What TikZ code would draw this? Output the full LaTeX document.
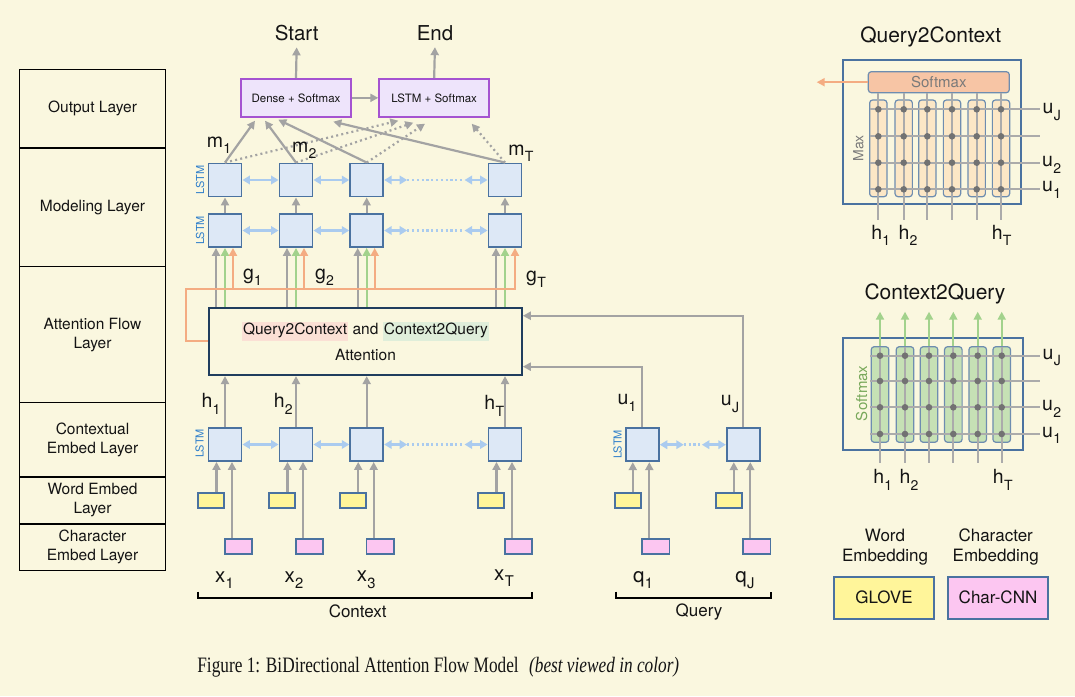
\documentclass[tikz,border=0pt]{standalone}
\usepackage{fontspec}
\usepackage{graphicx}
\setmainfont{TeX Gyre Heros}
\newfontfamily\capfont{Liberation Serif}
\usetikzlibrary{arrows.meta,calc}
\definecolor{bgc}{HTML}{FAF7DF}
\definecolor{lstmf}{HTML}{DDE8F6}
\definecolor{lstmb}{HTML}{4A72A0}
\definecolor{arrg}{HTML}{A3A3A3}
\definecolor{arrb}{HTML}{AACBEF}
\definecolor{orng}{HTML}{F4AC82}
\definecolor{grn}{HTML}{A2D28C}
\definecolor{purpb}{HTML}{A553D1}
\definecolor{purpf}{HTML}{EEE4FB}
\definecolor{yelf}{HTML}{FFF59A}
\definecolor{pnkf}{HTML}{FCC6F1}
\definecolor{attb}{HTML}{1F3D5E}
\definecolor{hlpink}{HTML}{FBE0D5}
\definecolor{hlgreen}{HTML}{DFEEDA}
\definecolor{qcf}{HTML}{FCE7C6}
\definecolor{smf}{HTML}{F7C5A5}
\definecolor{cqf}{HTML}{C6E1B5}
\definecolor{colb}{HTML}{6E8DB0}
\definecolor{dotc}{HTML}{727272}
\definecolor{gridc}{HTML}{ABABAB}
\definecolor{txtc}{HTML}{141414}
\definecolor{lstmtxt}{HTML}{2F7FCB}
\definecolor{smtxt}{HTML}{7A7A7A}
\definecolor{cqtxt}{HTML}{78A85A}
\newcommand{\vsub}[2]{#1\kern0.3pt\raisebox{-0.32em}{\scalebox{0.72}{#2}}}
\newcommand{\hlstrut}{\rule[-5.5pt]{0pt}{16.5pt}}
\setlength{\fboxsep}{1.2pt}
\begin{document}
\begin{tikzpicture}[x=1pt,y=-1pt,
  every node/.style={text=txtc},
  layer/.style={draw=black, line width=1.5pt, minimum width=146pt, inner sep=0, align=center, font=\fontsize{15.5}{19}\selectfont},
  lstm/.style={draw=lstmb, fill=lstmf, line width=1.9pt, minimum width=33pt, minimum height=33pt, inner sep=0},
  yel/.style={draw=lstmb, fill=yelf, line width=1.7pt, minimum width=26pt, minimum height=15pt, inner sep=0},
  pnk/.style={draw=lstmb, fill=pnkf, line width=1.7pt, minimum width=27.5pt, minimum height=15pt, inner sep=0},
  tip/.style={-{Triangle[length=8pt,width=8pt]}},
  garrow/.style={draw=arrg, line width=2.2pt, tip},
  gdots/.style={garrow, dash pattern=on 2pt off 3.2pt},
  barrow/.style={draw=arrb, line width=2.6pt, {Triangle[length=7.5pt,width=8.5pt]}-{Triangle[length=7.5pt,width=8.5pt]}},
  bdots/.style={draw=arrb, line width=2.6pt, dash pattern=on 2.2pt off 2.6pt},
  oarrow/.style={draw=orng, line width=2.2pt, tip},
  grarrow/.style={draw=grn, line width=2.2pt, tip},
  outbox/.style={draw=purpb, fill=purpf, line width=2pt, minimum width=110pt, minimum height=37.7pt, inner sep=0, font=\fontsize{11.5}{14}\selectfont},
  lstmlbl/.style={rotate=90, text=lstmtxt, font=\fontsize{11}{12}\selectfont, inner sep=0},
  vlbl/.style={font=\fontsize{19.5}{22}\selectfont, inner sep=0},
  xlbl/.style={font=\fontsize{20.5}{23}\selectfont, inner sep=0},
  bigt/.style={font=\fontsize{20.5}{24}\selectfont},
  ttl/.style={font=\fontsize{21}{25}\selectfont, inner sep=0},
  frm/.style={draw=lstmb, line width=2pt, inner sep=0},
  qccol/.style={draw=colb, fill=qcf, line width=1.2pt, rounded corners=3pt, minimum width=17.3pt, minimum height=96.7pt, inner sep=0},
  cqcol/.style={draw=colb, fill=cqf, line width=1.2pt, rounded corners=3pt, minimum width=17.6pt, minimum height=95.6pt, inner sep=0},
  gline/.style={draw=gridc, line width=2.1pt},
  bracel/.style={draw=black, line width=1.8pt},
  legbox/.style={draw=lstmb, line width=1.8pt, minimum width=100pt, minimum height=42pt, inner sep=0, font=\fontsize{17}{20}\selectfont},
  legtxt/.style={align=center, font=\fontsize{17}{20}\selectfont, inner sep=0}
]
\fill[bgc] (0,0) rectangle (1075,696);
\useasboundingbox (0,0) rectangle (1075,696);

% ---------- left layer column ----------
\node[layer, minimum height=78.7pt]  (lout) at (92.5,108.65) {Output Layer};
\node[layer, minimum height=118.5pt] (lmod) at (92.5,207.25) {Modeling Layer};
\node[layer, minimum height=136.2pt] (latt) at (92.5,334.6) {Attention Flow\\Layer};
\node[layer, minimum height=74.3pt]  (lctx) at (92.5,439.85) {Contextual\\Embed Layer};
\node[layer, minimum height=47pt]    (lwrd) at (92.5,500.5) {Word Embed\\Layer};
\node[layer, minimum height=46.7pt]  (lchr) at (92.5,547.35) {Character\\Embed Layer};

% ---------- context column boxes ----------
\foreach \n/\x in {1/225,2/296,3/366.7,4/505} {
  \node[lstm] (m1\n) at (\x,180) {};
  \node[lstm] (m2\n) at (\x,230.5) {};
  \node[lstm] (c\n) at (\x,444.5) {};
  \node[yel] (y\n) at (\x-14,500.8) {};
  \node[pnk] (p\n) at (\x+13.5,546.7) {};
}
\foreach \n/\x in {1/642.3,2/743.3} {
  \node[lstm] (q\n) at (\x,444.7) {};
  \node[yel] (qy\n) at (\x-14,500.8) {};
  \node[pnk] (qp\n) at (\x+13.5,546.7) {};
}
\node[lstmlbl] (lb1) at (200,180) {LSTM};
\node[lstmlbl] (lb2) at (200,230.5) {LSTM};
\node[lstmlbl] (lb3) at (199.5,443.5) {LSTM};
\node[lstmlbl] (lb4) at (617.7,444.5) {LSTM};

% ---------- output layer ----------
\node[outbox] (dense) at (296,97.85) {Dense + Softmax};
\node[outbox, minimum width=109.7pt] (lsm) at (434.15,97.85) {LSTM + Softmax};
\node[bigt] (start) at (296.7,33) {Start};
\node[bigt] (end) at (435,33) {End};
\draw[garrow, shorten >=3pt] (dense.north) -- (start.south);
\draw[garrow, shorten >=3pt] (lsm.north) -- (end.south);
\draw[garrow] (dense.east) -- (lsm.west);

\draw[garrow] (m11.north) -- ($(dense.south)+(-41,3)$);
\draw[garrow] (m12.north) -- ($(dense.south)+(-31,3)$);
\draw[garrow] (m13.north) -- ($(dense.south)+(-17.7,2)$);
\draw[garrow] (m14.north) -- ($(dense.south)+(37.3,4)$);
\draw[gdots] (m11.north) -- ($(lsm.south)+(-35.85,3)$);
\draw[gdots] (m12.north) -- ($(lsm.south)+(-20.85,5)$);
\draw[gdots] (m13.north) -- ($(lsm.south)+(-9.15,6)$);
\draw[gdots] (m14.north) -- ($(lsm.south)+(37.55,6)$);

% ---------- horizontal bi-LSTM links ----------
\foreach \r in {m1,m2,c} {
  \draw[barrow] (\r1.east) -- (\r2.west);
  \draw[barrow] (\r2.east) -- (\r3.west);
  \draw[barrow] (\r3.east) -- ++(23,0);
  \draw[bdots] ($(\r3.east)+(23,0)$) -- ($(\r4.west)+(-23,0)$);
  \draw[barrow] ($(\r4.west)+(-23,0)$) -- (\r4.west);
}
\draw[barrow] (q1.east) -- ++(24,0);
\draw[bdots] ($(q1.east)+(24,0)$) -- ($(q2.west)+(-24,0)$);
\draw[barrow] ($(q2.west)+(-24,0)$) -- (q2.west);

% ---------- attention flow ----------
\node[draw=attb, line width=2.2pt, minimum width=312.4pt, minimum height=67.3pt, inner sep=0] (att) at (365.5,341.35) {};
\node[font=\fontsize{15.5}{18}\selectfont, inner sep=0] (attt1) at (365.5,331.7)
  {\colorbox{hlpink}{\hlstrut Query2Context} and \colorbox{hlgreen}{\hlstrut Context2Query}};
\node[font=\fontsize{15.5}{18}\selectfont, inner sep=0] (attt2) at (365.5,355) {Attention};

\coordinate (obar) at (0,289.3);
\foreach \n/\o in {1/8,2/8,3/8,4/10} {
  \coordinate (gg\n) at ($(m2\n.south)+(-9,0)$);
  \coordinate (gr\n) at ($(m2\n.south)+(0,0)$);
  \coordinate (go\n) at ($(m2\n.south)+(\o,0)$);
  \draw[garrow] (gg\n |- att.north) -- (gg\n);
  \draw[grarrow] (gr\n |- att.north) -- (gr\n);
  \draw[garrow] (m2\n.north) -- (m1\n.south);
  \draw[garrow] (c\n.north) -- (c\n.north |- att.south);
  \draw[garrow] ($(y\n.north)+(5.5,0)$) -- ($(c\n.south)+(-8.5,0)$);
  \draw[garrow] ($(p\n.north)+(-6.5,0)$) -- ($(c\n.south)+(7,0)$);
}
\draw[oarrow] (att.west) -- ++(-22.6,0) |- (go4 |- obar) -- (go4);
\foreach \n in {1,2,3} { \draw[oarrow] (go\n |- obar) -- (go\n); }

\foreach \n in {1,2} {
  \draw[garrow] ($(qy\n.north)+(4.5,0)$) -- ($(q\n.south)+(-9.5,0)$);
  \draw[garrow] ($(qp\n.north)+(-6.5,0)$) -- ($(q\n.south)+(7,0)$);
}
\draw[garrow] (q1.north) |- ($(att.east)+(0,25.3)$);
\draw[garrow] (q2.north) |- ($(att.east)+(0,-25.6)$);

% ---------- labels ----------
\node[vlbl] (lm1) at (219,145.3) {\vsub{m}{1}};
\node[vlbl] (lm2) at (304.3,150) {\vsub{m}{2}};
\node[vlbl] (lmT) at (521,153) {\vsub{m}{T}};
\node[vlbl] (lg1) at (252.5,277) {\vsub{g}{1}};
\node[vlbl] (lg2) at (324.5,277) {\vsub{g}{2}};
\node[vlbl] (lgT) at (536,279) {\vsub{g}{T}};
\node[vlbl] (lh1) at (211,404) {\vsub{h}{1}};
\node[vlbl] (lh2) at (283.3,404) {\vsub{h}{2}};
\node[vlbl] (lhT) at (494.3,406) {\vsub{h}{T}};
\node[vlbl] (lu1) at (627,403) {\vsub{u}{1}};
\node[vlbl] (luJ) at (730,404) {\vsub{u}{J}};
\node[xlbl] (lx1) at (224.5,580) {\vsub{x}{1}};
\node[xlbl] (lx2) at (294,580) {\vsub{x}{2}};
\node[xlbl] (lx3) at (366.3,580) {\vsub{x}{3}};
\node[xlbl] (lxT) at (504,578) {\vsub{x}{T}};
\node[xlbl] (lq1) at (643,580) {\vsub{q}{1}};
\node[xlbl] (lqJ) at (745,580) {\vsub{q}{J}};

\draw[bracel] (198.3,591.7) -- (198.3,598.3) -- (532.3,598.3) -- (532.3,591.7);
\draw[bracel] (615.7,591.7) -- (615.7,598.3) -- (771,598.3) -- (771,591.7);
\node[legtxt] (lctxt) at (357.7,611.7) {Context};
\node[legtxt] (lqry) at (699,612.3) {Query};

% ---------- Query2Context panel ----------
\node[ttl] (q2ct) at (930.7,37.3) {Query2Context};
\node[frm, minimum width=178.3pt, minimum height=144pt] (qcbox) at (931.85,132) {};
\node[draw=colb, fill=smf, line width=1.2pt, rounded corners=3pt, minimum width=141pt, minimum height=21pt, inner sep=0, text=smtxt, font=\fontsize{15}{17}\selectfont] (qcsm) at (938.8,82.2) {Softmax};
\draw[oarrow] (qcsm.west) -- (816.7,82.2);
\foreach \k/\x in {1/878.3,2/903.7,3/927.3,4/952,5/976.7,6/1001} {
  \node[qccol] (qcc\k) at (\x,148.35) {};
}
\foreach \x in {878.3,903.7,927.3,952,976.7,1001} { \draw[gline] (\x,92.7) -- (\x,220); }
\foreach \y in {109.3,136.3,162.7,189.3} { \draw[gline] (870,\y) -- (1040,\y); }
\foreach \x in {878.3,903.7,927.3,952,976.7,1001} {
  \foreach \y in {109.3,136.3,162.7,189.3} { \fill[dotc] (\x,\y) circle (3.3pt); }
}
\node[rotate=90, text=smtxt, font=\fontsize{14}{16}\selectfont, inner sep=0] (qcmax) at (858.3,148.3) {Max};
\node[vlbl] (qcuJ) at (1051.7,112) {\vsub{u}{J}};
\node[vlbl] (qcu2) at (1051.7,165) {\vsub{u}{2}};
\node[vlbl] (qcu1) at (1051.7,190) {\vsub{u}{1}};
\node[vlbl] (qch1) at (880.8,235.5) {\vsub{h}{1}};
\node[vlbl] (qch2) at (908,235.5) {\vsub{h}{2}};
\node[vlbl] (qchT) at (1001.7,235.5) {\vsub{h}{T}};

% ---------- Context2Query panel ----------
\node[ttl] (c2qt) at (935,294) {Context2Query};
\node[frm, minimum width=179.4pt, minimum height=111.7pt] (cqbox) at (933,394.15) {};
\foreach \k/\x in {1/880,2/905,3/929,4/953.3,5/977.7,6/1001.7} {
  \node[cqcol] (cqc\k) at (\x,394.5) {};
  \draw[grarrow] (cqc\k.north) -- (\x,311.7);
}
\foreach \x in {880,905,929,953.3,977.7,1001.7} { \draw[gline] (\x,346.7) -- (\x,463.3); }
\foreach \y in {355.7,381,407.3,434} { \draw[gline] (870,\y) -- (1040,\y); }
\foreach \x in {880,905,929,953.3,977.7,1001.7} {
  \foreach \y in {355.7,381,407.3,434} { \fill[dotc] (\x,\y) circle (3.3pt); }
}
\node[rotate=90, text=cqtxt, font=\fontsize{15}{17}\selectfont, inner sep=0] (cqsm) at (861.7,393.3) {Softmax};
\node[vlbl] (cquJ) at (1051.7,357.5) {\vsub{u}{J}};
\node[vlbl] (cqu2) at (1051.7,409) {\vsub{u}{2}};
\node[vlbl] (cqu1) at (1051.7,435.5) {\vsub{u}{1}};
\node[vlbl] (cqh1) at (882.8,480) {\vsub{h}{1}};
\node[vlbl] (cqh2) at (909,480) {\vsub{h}{2}};
\node[vlbl] (cqhT) at (1002.8,480) {\vsub{h}{T}};

% ---------- legend ----------
\node[legtxt] (wel) at (885,546.7) {Word\\Embedding};
\node[legtxt] (cel) at (995.7,546.7) {Character\\Embedding};
\node[legbox, fill=yelf] (glove) at (884,597.7) {GLOVE};
\node[legbox, fill=pnkf, minimum width=100.6pt] (ccnn) at (998,597.7) {Char-CNN};

% ---------- caption ----------
\node[inner sep=0, font=\capfont\fontsize{22}{26}\selectfont] (capt) at (438.3,667)
  {\scalebox{0.785}[1]{Figure 1: BiDirectional Attention Flow Model\hspace{0.6em}\textit{(best viewed in color)}}};
\end{tikzpicture}
\end{document}
